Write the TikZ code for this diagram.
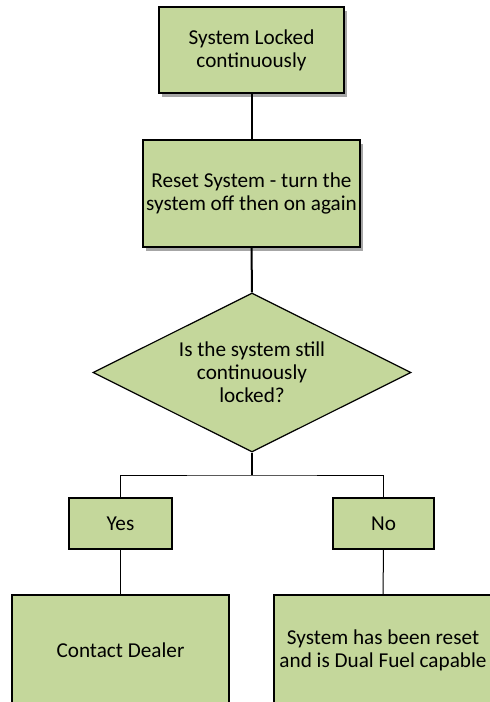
\documentclass[tikz,border=0pt]{standalone}
\usepackage{fontspec}
\setmainfont{Carlito}
\usetikzlibrary{shapes.geometric,shadows}
\definecolor{boxgreen}{RGB}{196,215,155}
\tikzset{
  box/.style={draw=black, line width=1.2pt, fill=boxgreen, inner sep=0pt, align=center,
    font=\fontsize{21.2}{23}\selectfont, text=black},
  shadowed/.style={drop shadow={shadow xshift=3pt, shadow yshift=-4pt, fill=black, opacity=0.35}},
  dia/.style={box, shape=diamond, shape aspect=2},
  mainline/.style={draw=black, line width=2pt},
  thinline/.style={draw=black, line width=1pt},
}
\begin{document}
\begin{tikzpicture}[x=1pt,y=-1pt]
\useasboundingbox (0,0) rectangle (490,702);
\clip (0,0) rectangle (490,702);
\node[box, shadowed, minimum width=185pt, minimum height=86pt] (lock) at (251.5,50) {System Locked\\continuously};
\node[box, shadowed, minimum width=217pt, minimum height=107pt] (reset) at (251.5,193.5) {Reset System - turn the\\system off then on again};
\node[dia, minimum width=318pt, minimum height=159pt] (q) at (252,372.5) {Is the system still\\continuously\\locked?};
\coordinate (split) at (252,475);
\node[box, minimum width=103pt, minimum height=51pt] (yes) at (120.5,523.5) {Yes};
\node[box, minimum width=101pt, minimum height=51pt] (no) at (383.5,523.5) {No};
\node[box, minimum width=217pt, minimum height=110pt] (dealer) at (120.5,650) {Contact Dealer};
\node[box, minimum width=218pt, minimum height=110pt] (done) at (383,650) {System has been reset\\and is Dual Fuel capable};
\draw[mainline] (lock.south) -- (reset.north);
\draw[mainline] (reset.south) -- (q.north);
\draw[mainline] (q.south) -- (split);
\draw[thinline] (yes.north) |- (split) -| (no.north);
\draw[thinline] (yes.south) -- (dealer.north);
\draw[thinline] (no.south) -- (done.north);
\end{tikzpicture}
\end{document}
